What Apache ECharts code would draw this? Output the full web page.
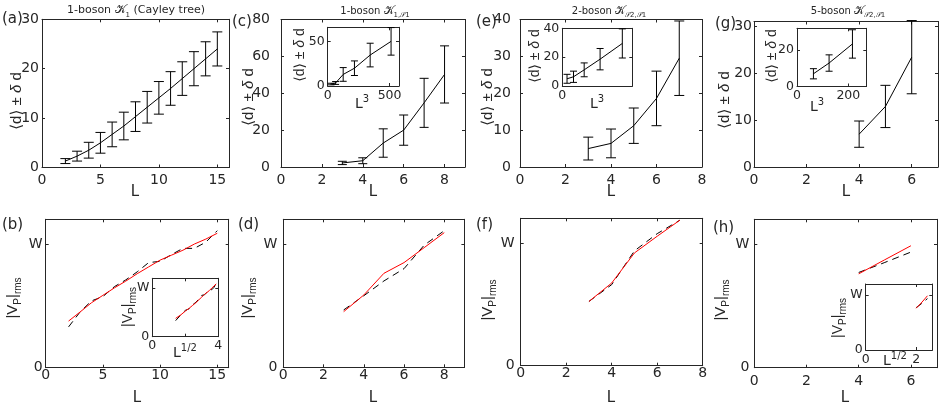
<!DOCTYPE html>
<html><head><meta charset="utf-8">
<script src="https://cdn.jsdelivr.net/npm/echarts@6/dist/echarts.min.js"></script>
<style>html,body{margin:0;padding:0;background:#fff}#c{width:941px;height:407px}</style>
</head><body><div id="c"></div><script>
// ---------- DATA ----------
// (a) 1-boson Cayley tree
const aL = [2,3,4,5,6,7,8,9,10,11,12,13,14,15];
const aMean = [1.3,2.3,3.5,5.0,6.7,8.4,10.3,12.2,14.1,16.0,18.0,20.0,22.0,24.0];
const aErr = [0.5,1.0,1.6,2.1,2.5,2.8,3.0,3.2,3.3,3.4,3.4,3.45,3.45,3.45];
// (c) 1-boson K1,S1
const cL = [3,4,5,6,7,8];
const cL3 = [27,64,125,216,343,512];
const cMean = [2.2,3.4,13.0,20.0,34.8,50.2];
const cErr = [0.9,1.6,7.7,8.2,13.3,15.5];
// (e) 2-boson
const eL = [3,4,5,6,7];
const eL3 = [27,64,125,216,343];
const eMean = [5.0,6.4,11.2,18.6,29.5];
const eErr = [3.1,3.9,4.8,7.4,10.1];
// (g) 5-boson
const gL = [4,5,6];
const gL3 = [64,125,216];
const gMean = [7.0,12.9,23.4];
const gErr = [2.8,4.5,7.8];
// (b) |V_P|_rms, units of W
const bL = [2,3,4,5,6,7,8,9,10,11,12,13,14,15];
const bSqrtL = [1.414,1.732,2,2.236,2.449,2.646,2.828,3,3.162,3.317,3.464,3.606,3.742,3.873];
const bRed = [0.377,0.45,0.525,0.585,0.645,0.70,0.76,0.815,0.87,0.91,0.95,1.0,1.04,1.087];
const bBlack = [0.33,0.45,0.54,0.575,0.655,0.71,0.775,0.85,0.86,0.915,0.965,0.965,1.015,1.108];
// (d)
const dL = [3,4,5,6,7,8];
const dRed = [0.451,0.586,0.762,0.849,0.97,1.092];
const dBlack = [0.465,0.58,0.70,0.80,0.99,1.108];
// (f)
const fL = [3,4,5,6,7];
const fRed = [0.523,0.673,0.918,1.054,1.185];
const fBlack = [0.523,0.66,0.935,1.075,1.185];
// (h)
const hL = [4,5,6];
const hSqrtL = [2,2.236,2.449];
const hRed = [0.759,0.873,0.986];
const hBlack = [0.77,0.851,0.935];
// tick labels
const wLabels = {0:'0', 1:'W'};

// ---------- BUILD ----------
const FONT = 'DejaVu Sans, Liberation Sans, sans-serif';
const LFONT = 'Liberation Sans, DejaVu Sans, sans-serif';
const TXT = '#262626';
const grids=[], xAxes=[], yAxes=[], series=[];

function addGrid(box, xc, yc, o){
  const gi = grids.length;
  grids.push({left:box[0], top:box[1], width:box[2]-box[0], height:box[3]-box[1], containLabel:false,
    show:!!o.bg, backgroundColor:'#fff', borderWidth:0});
  const mk = (c, pos, show, isX) => ({
    type:'value', gridIndex:gi, position:pos, min:c.min, max:c.max, interval:c.interval,
    axisLine:{show:true, onZero:false, lineStyle:{color:TXT,width:1}},
    axisTick:{show:true, inside:true, length:o.tick||3, lineStyle:{color:TXT,width:1}},
    splitLine:{show:false},
    axisLabel:{show:show, color:TXT, fontFamily:FONT, fontSize:o.fs, margin: isX?o.xm:o.ym,
      formatter:(v)=>{ const k=v/c.interval; if(Math.abs(k-Math.round(k))>1e-6) return '';
        if(c.lab) return c.lab(Math.round(k)*c.interval); return String(Math.round(k)*c.interval);} },
  });
  xAxes.push(mk(xc,'bottom',true,true), mk(xc,'top',false,true));
  yAxes.push(mk(yc,'left',true,false), mk(yc,'right',false,false));
  return {xi:2*gi, yi:2*gi};
}
function lineS(ax, xs, ys, color, dashed, z){
  series.push({type:'line', xAxisIndex:ax.xi, yAxisIndex:ax.yi, data:xs.map((x,i)=>[x,ys[i]]),
    showSymbol:false, symbol:'none', silent:true, animation:false, z:z||2,
    lineStyle:{color, width:1, type: dashed?[7,5]:'solid'}});
}
function errS(ax, xs, means, errs, cap){
  series.push({type:'custom', xAxisIndex:ax.xi, yAxisIndex:ax.yi, silent:true, animation:false, clip:false,
    data: xs.map((x,i)=>[x, means[i]-errs[i], means[i]+errs[i]]),
    encode:{x:0, y:[1,2]},
    renderItem(params, api){
      const lo = api.coord([api.value(0), api.value(1)]);
      const hi = api.coord([api.value(0), api.value(2)]);
      const st = {stroke:'#000', lineWidth:1};
      return {type:'group', children:[
        {type:'line', shape:{x1:lo[0],y1:lo[1],x2:hi[0],y2:hi[1]}, style:st},
        {type:'line', shape:{x1:lo[0]-cap,y1:lo[1],x2:lo[0]+cap,y2:lo[1]}, style:st},
        {type:'line', shape:{x1:hi[0]-cap,y1:hi[1],x2:hi[0]+cap,y2:hi[1]}, style:st}
      ]};
    }});
}
const wLab = v => wLabels[v] !== undefined ? wLabels[v] : '';
const W = {min:0, max:1.2, interval:1, lab:wLab};

// top row
const A = addGrid([42,19.3,229,167.5], {min:0,max:16,interval:5}, {min:0,max:30,interval:10}, {fs:14, xm:6, ym:3});
lineS(A, aL, aMean, '#000'); errS(A, aL, aMean, aErr, 5);
const C = addGrid([281,19.5,465,167], {min:0,max:9,interval:2}, {min:0,max:80,interval:20}, {fs:14, xm:6, ym:11});
lineS(C, cL, cMean, '#000'); errS(C, cL, cMean, cErr, 4.5);
const Ci = addGrid([327.7,27.3,399,86], {min:0,max:576,interval:500}, {min:0,max:66,interval:50}, {fs:12.5, xm:3, ym:3, bg:true});
lineS(Ci, cL3, cMean, '#000'); errS(Ci, cL3, cMean, cErr, 3.5);
const E = addGrid([520,19.5,702,167], {min:0,max:8,interval:2}, {min:0,max:40,interval:10}, {fs:14, xm:6, ym:9});
lineS(E, eL, eMean, '#000'); errS(E, eL, eMean, eErr, 5);
const Ei = addGrid([562.3,28.3,632.3,86], {min:0,max:400,interval:500}, {min:0,max:40,interval:20}, {fs:12.5, xm:3, ym:3, bg:true});
lineS(Ei, eL3, eMean, '#000'); errS(Ei, eL3, eMean, eErr, 3.5);
const G = addGrid([754,21.5,938,167], {min:0,max:7,interval:2}, {min:0,max:31,interval:10}, {fs:14, xm:6, ym:2});
lineS(G, gL, gMean, '#000'); errS(G, gL, gMean, gErr, 5);
const Gi = addGrid([797,28.3,866.3,86.5], {min:0,max:270,interval:200}, {min:0,max:32,interval:20}, {fs:12.5, xm:3, ym:3, bg:true});
lineS(Gi, gL3, gMean, '#000'); errS(Gi, gL3, gMean, gErr, 3.5);

// bottom row
const B = addGrid([45.7,219.3,228.7,367.7], {min:0,max:16,interval:5}, W, {fs:14, xm:1, ym:3});
lineS(B, bL, bBlack, '#000', true); lineS(B, bL, bRed, '#ff0000', false, 3);
const Bi = addGrid([152.3,278.3,218.3,336.7], {min:0,max:4,interval:2, lab:v=>v===2?'':String(v)}, W, {fs:12.5, xm:3, ym:3, bg:true});
lineS(Bi, bSqrtL, bBlack, '#000', true); lineS(Bi, bSqrtL, bRed, '#ff0000', false, 3);
const D = addGrid([283.3,219.3,464.4,367.3], {min:0,max:9,interval:2}, W, {fs:14, xm:1, ym:6});
lineS(D, dL, dBlack, '#000', true); lineS(D, dL, dRed, '#ff0000', false, 3);
const F = addGrid([520.7,218.3,702.7,365.7], {min:0,max:8,interval:2}, W, {fs:14, xm:1, ym:6});
lineS(F, fL, fBlack, '#000', true); lineS(F, fL, fRed, '#ff0000', false, 3);
const H = addGrid([754.3,219.3,937,367.7], {min:0,max:7,interval:2}, W, {fs:14, xm:7, ym:5});
lineS(H, hL, hBlack, '#000', true); lineS(H, hL, hRed, '#ff0000', false, 3);
const Hi = addGrid([865.7,284,932.3,350], {min:0,max:2.64,interval:2}, W, {fs:12.5, xm:3, ym:3, bg:true});
lineS(Hi, hSqrtL, hBlack, '#000', true); lineS(Hi, hSqrtL, hRed, '#ff0000', false, 3);

// ---------- TEXT ----------
const g = [];
function t(x, y, text, rich, opt){
  opt = opt || {};
  g.push({type:'text', x, y, rotation: opt.rot||0, z:50,
    style:{text, rich, fill:TXT, align: opt.align||'center', verticalAlign:'middle',
      fontFamily:FONT, fontSize: opt.fs||14}});
}
const R = (fs, fam)=>({
  m:{fontFamily:fam||FONT, fontSize:fs, lineHeight:fs+6, fill:TXT},
  i:{fontFamily:fam||FONT, fontSize:fs, lineHeight:fs+6, fontStyle:'italic', fill:TXT},
  s:{fontFamily:fam||FONT, fontSize:Math.round(fs*0.68), lineHeight:6, verticalAlign:'bottom', fill:TXT},
  u:{fontFamily:fam||FONT, fontSize:Math.round(fs*0.68), lineHeight:8, verticalAlign:'top', fill:TXT},
  k:{fontFamily:'DejaVu Serif, DejaVu Sans, serif', fontSize:fs+1, lineHeight:fs+6, fill:TXT},
  ks:{fontFamily:'DejaVu Serif, DejaVu Sans, serif', fontSize:Math.round(fs*0.72), lineHeight:6, verticalAlign:'bottom', fill:TXT}
});
const dLab = '{m|⟨d⟩ ± }{i|δ}{m| d}';
const vLab = '{m||V}{s|P}{m||}{s|rms}';
const ROT = Math.PI/2;
// titles
t(136, 10, '{m|1-boson }{k|𝒦}{s|1}{m| (Cayley tree)}', R(11));
t(375, 11, '{m|1-boson }{k|𝒦}{s|1,}{ks|𝒮}{s|1}', R(10));
t(609, 11, '{m|2-boson }{k|𝒦}{ks|𝒮}{s|2,}{ks|𝒮}{s|1}', R(10));
t(848, 11, '{m|5-boson }{k|𝒦}{ks|𝒮}{s|2,}{ks|𝒮}{s|1}', R(10));
// panel letters
t(2, 19, '(a)', null, {align:'left', fs:15});
t(232, 22, '(c)', null, {align:'left', fs:15});
t(476, 22, '(e)', null, {align:'left', fs:15});
t(715, 24, '(g)', null, {align:'left', fs:15});
t(2, 225, '(b)', null, {align:'left', fs:15});
t(238, 225, '(d)', null, {align:'left', fs:15});
t(476, 225, '(f)', null, {align:'left', fs:15});
t(713, 228, '(h)', null, {align:'left', fs:15});
// x labels
[[135,192],[373,192],[611,192],[846,192],[137,398],[373,398],[611,398],[845,398]].forEach(p=>t(p[0],p[1],'L',null,{fs:15}));
// y labels main
t(17, 101, dLab, R(15, LFONT), {rot:ROT});
t(249, 97, dLab, R(15, LFONT), {rot:ROT});
t(488, 97, dLab, R(15, LFONT), {rot:ROT});
t(725, 100, dLab, R(15, LFONT), {rot:ROT});
t(13, 298, vLab, R(15, LFONT), {rot:ROT});
t(248, 298, vLab, R(15, LFONT), {rot:ROT});
t(488, 300, vLab, R(15, LFONT), {rot:ROT});
t(721, 300, vLab, R(15, LFONT), {rot:ROT});
// inset labels
t(300, 55, dLab, R(14, LFONT), {rot:ROT});
t(535, 56, dLab, R(14, LFONT), {rot:ROT});
t(772, 56, dLab, R(14, LFONT), {rot:ROT});
t(128, 307, vLab, R(14, LFONT), {rot:ROT});
t(838, 318, vLab, R(14, LFONT), {rot:ROT});
const L3 = '{m|L}{u|3}';
t(362, 104, L3, R(14));
t(597, 104, L3, R(14));
t(817, 107, L3, R(14));
t(185, 353, '{m|L}{u|1/2}', R(14));
t(895, 361, '{m|L}{u|1/2}', R(14));

const chart = echarts.init(document.getElementById('c'), null, {renderer:'canvas'});
chart.setOption({animation:false, backgroundColor:'#fff', grid:grids, xAxis:xAxes, yAxis:yAxes, series, graphic:g});
</script></body></html>
